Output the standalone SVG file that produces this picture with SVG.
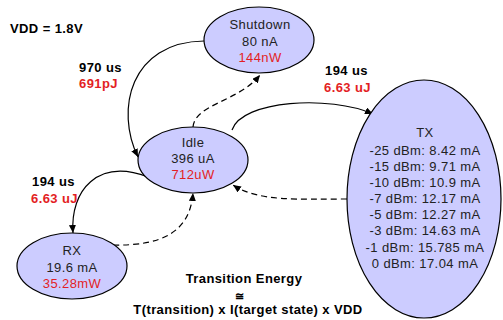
<svg xmlns="http://www.w3.org/2000/svg" width="503" height="320" viewBox="0 0 503 320">
<style>
text{font-family:"Liberation Sans",Arial,sans-serif;font-size:13px;letter-spacing:0.4px;fill:#222}
.n{text-anchor:middle}
.b{font-weight:bold;fill:#000}
.r{fill:#e31e24}
.st{fill:#ccccff;stroke:#000;stroke-width:1.2}
.c{fill:none;stroke:#000;stroke-width:1.2}
.d{stroke-dasharray:6 4}
</style>
<defs>
<marker id="ah" markerUnits="userSpaceOnUse" markerWidth="9" markerHeight="8" refX="8" refY="3.5" orient="auto">
<path d="M0,0 L8,3.5 L0,7 z" fill="#000"/>
</marker>
</defs>
<rect width="503" height="320" fill="#fff"/>
<text class="b" x="10" y="33">VDD = 1.8V</text>
<g id="connectors">
<path class="c d" d="M193,127 C195,104 238,102 260,75" marker-end="url(#ah)"/>
<path class="c" d="M204,41 C130,42 115,110 138,157" marker-end="url(#ah)"/>
<path class="c" d="M232,130 C242,100 330,95 373,114" marker-end="url(#ah)"/>
<path class="c d" d="M347,199 C300,199 258,202 233,185" marker-end="url(#ah)"/>
<path class="c" d="M148,177 C98,158 70,190 73,233" marker-end="url(#ah)"/>
<path class="c d" d="M113,245 C162,246 190,232 193,193" marker-end="url(#ah)"/>
</g>
<g id="labels">
<text class="b" x="79" y="72">970 us</text>
<text class="b r" x="79" y="88">691pJ</text>
<text class="b" x="325" y="75">194 us</text>
<text class="b r" x="324" y="92">6.63 uJ</text>
<text class="b" x="32" y="186">194 us</text>
<text class="b r" x="31" y="203">6.63 uJ</text>
<text class="b n" x="244" y="283">Transition Energy</text>
<text class="b n" x="240" y="300" style="font-size:11px">≅</text>
<text class="b n" x="248" y="314">T(transition) x I(target state) x VDD</text>
</g>
<g id="shutdown">
<ellipse class="st" cx="259" cy="40" rx="55" ry="33"/>
<text class="n" x="260" y="29">Shutdown</text>
<text class="n" x="260" y="45.5">80 nA</text>
<text class="n r" x="260" y="61.5">144nW</text>
</g>
<g id="idle">
<ellipse class="st" cx="193" cy="160" rx="55" ry="33"/>
<text class="n" x="193" y="147">Idle</text>
<text class="n" x="193" y="163">396 uA</text>
<text class="n r" x="193" y="179">712uW</text>
</g>
<g id="rx">
<ellipse class="st" cx="72" cy="266" rx="55" ry="33"/>
<text class="n" x="72" y="255">RX</text>
<text class="n" x="72" y="271.5">19.6 mA</text>
<text class="n r" x="72" y="287.5">35.28mW</text>
</g>
<g id="tx">
<ellipse class="st" cx="424" cy="199" rx="77" ry="119"/>
<text class="n" x="425" y="137">TX</text>
<text class="n" x="425" y="155">-25 dBm: 8.42 mA</text>
<text class="n" x="425" y="171">-15 dBm: 9.71 mA</text>
<text class="n" x="425" y="187">-10 dBm: 10.9 mA</text>
<text class="n" x="425" y="203">-7 dBm: 12.17 mA</text>
<text class="n" x="425" y="219">-5 dBm: 12.27 mA</text>
<text class="n" x="425" y="235">-3 dBm: 14.63 mA</text>
<text class="n" x="425" y="252">-1 dBm: 15.785 mA</text>
<text class="n" x="425" y="268">0 dBm: 17.04 mA</text>
</g>
</svg>
